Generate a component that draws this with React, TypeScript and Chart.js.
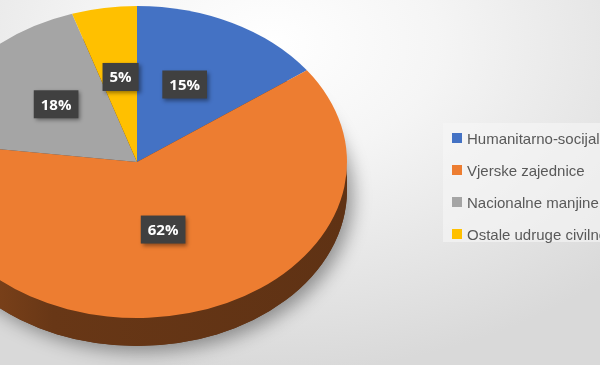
import { useEffect, useRef } from 'react';
import { Chart, registerables } from 'chart.js';

Chart.register(...registerables);

const categories = [
  'Humanitarno-socijalne udruge',
  'Vjerske zajednice',
  'Nacionalne manjine',
  'Ostale udruge civilnog društva',
];
const shares = [15, 62, 18, 5];
const colors = ['#4472c4', '#ed7d31', '#a5a5a5', '#ffc000'];

// ellipse geometry of the tilted pie (styling)
const CX = 137;
const CY = 162;
const RX = 210;
const RY = 156;
const DEPTH = 28;

function shade(hex: string, f: number) {
  const n = parseInt(hex.slice(1), 16);
  const r = Math.round(((n >> 16) & 255) * f);
  const g = Math.round(((n >> 8) & 255) * f);
  const b = Math.round((n & 255) * f);
  return `rgb(${r},${g},${b})`;
}

const pie3d = {
  id: 'pie3d',
  beforeDatasetDraw(chart: any, args: any) {
    const ctx = chart.ctx as CanvasRenderingContext2D;
    const arcs = args.meta.data;
    ctx.save();
    // drop shadow under the pie body
    ctx.save();
    ctx.shadowColor = 'rgba(0,0,0,0.38)';
    ctx.shadowBlur = 18;
    ctx.shadowOffsetX = 6;
    ctx.shadowOffsetY = 6;
    ctx.beginPath();
    ctx.ellipse(CX, CY + DEPTH, RX, RY, 0, 0, Math.PI * 2);
    ctx.fillStyle = '#5a3016';
    ctx.fill();
    ctx.restore();
    // side walls (front half only)
    arcs.forEach((el: any, i: number) => {
      const s = el.startAngle;
      const e = el.endAngle;
      const ranges = [
        [0, Math.PI],
        [2 * Math.PI, 3 * Math.PI],
        [-2 * Math.PI, -Math.PI],
      ];
      ranges.forEach(([lo, hi]) => {
        const a = Math.max(s, lo);
        const b = Math.min(e, hi);
        if (b <= a) return;
        const grad = ctx.createLinearGradient(CX - RX, 0, CX + RX, 0);
        const c = colors[i % colors.length];
        grad.addColorStop(0, shade(c, 0.6));
        grad.addColorStop(0.3, shade(c, 0.44));
        grad.addColorStop(1, shade(c, 0.4));
        ctx.beginPath();
        ctx.ellipse(CX, CY, RX, RY, 0, a, b);
        ctx.ellipse(CX, CY + DEPTH, RX, RY, 0, b, a, true);
        ctx.closePath();
        ctx.fillStyle = grad;
        ctx.fill();
      });
    });
    // tilt the top face
    const el0 = arcs[0];
    const r = el0.outerRadius;
    ctx.translate(CX, CY);
    ctx.scale(RX / r, RY / r);
    ctx.translate(-el0.x, -el0.y);
  },
  afterDatasetDraw(chart: any) {
    chart.ctx.restore();
  },
  afterDatasetsDraw(chart: any) {
    const ctx = chart.ctx as CanvasRenderingContext2D;
    const meta = chart.getDatasetMeta(0);
    const total = shares.reduce((a, b) => a + b, 0);
    meta.data.forEach((el: any, i: number) => {
      const mid = (el.startAngle + el.endAngle) / 2;
      const x = CX + 0.5 * RX * Math.cos(mid);
      const y = CY + 0.5 * RY * Math.sin(mid) - 8;
      const txt = Math.round((shares[i] / total) * 100) + '%';
      ctx.save();
      ctx.font = 'bold 15px "Open Sans"';
      const w = ctx.measureText(txt).width + 14;
      const h = 28;
      ctx.shadowColor = 'rgba(0,0,0,0.4)';
      ctx.shadowBlur = 4;
      ctx.shadowOffsetX = 2;
      ctx.shadowOffsetY = 2;
      ctx.fillStyle = '#404040';
      ctx.fillRect(x - w / 2, y - h / 2, w, h);
      ctx.shadowColor = 'transparent';
      ctx.fillStyle = '#ffffff';
      ctx.textAlign = 'center';
      ctx.textBaseline = 'middle';
      ctx.fillText(txt, x, y + 1);
      ctx.restore();
    });
  },
};

export default function App() {
  const ref = useRef<HTMLCanvasElement>(null);
  useEffect(() => {
    if (!ref.current) return;
    const chart = new Chart(ref.current, {
      type: 'pie',
      data: {
        labels: categories,
        datasets: [
          {
            data: shares,
            backgroundColor: colors,
            borderWidth: 0,
            clip: false as any,
          },
        ],
      },
      options: {
        responsive: false,
        animation: false,
        layout: { padding: { left: 0, right: 326, top: 0, bottom: 45 } },
        plugins: {
          legend: { display: false },
          tooltip: { enabled: false },
        },
      },
      plugins: [pie3d],
    });
    return () => chart.destroy();
  }, []);

  return (
    <div
      style={{
        position: 'fixed',
        left: 0,
        top: 0,
        width: 600,
        height: 365,
        overflow: 'hidden',
        background:
          'radial-gradient(ellipse 80% 90% at 45% 12%, #ffffff 0%, #f5f5f5 35%, #e6e6e6 70%, #d9d9d9 100%)',
      }}
    >
      <canvas ref={ref} width={600} height={365} style={{ position: 'absolute', left: 0, top: 0 }} />
      <div
        style={{
          position: 'absolute',
          left: 443,
          top: 123,
          width: 170,
          height: 119,
          background: 'rgba(246,246,246,0.6)',
        }}
      />
      {categories.map((c, i) => (
        <div
          key={c}
          style={{
            position: 'absolute',
            left: 452,
            top: 138 - 10 + i * 32,
            height: 20,
            display: 'flex',
            alignItems: 'center',
            whiteSpace: 'nowrap',
            font: '15px "Liberation Sans", sans-serif',
            color: '#595959',
          }}
        >
          <span style={{ width: 10, height: 10, background: colors[i], marginRight: 5, display: 'inline-block' }} />
          <span>{c}</span>
        </div>
      ))}
    </div>
  );
}
